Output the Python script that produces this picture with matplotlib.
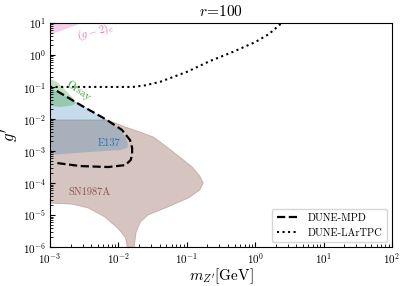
import numpy as np
import matplotlib
matplotlib.use("Agg")
import matplotlib.pyplot as plt

plt.rcParams["font.family"] = "serif"
plt.rcParams["font.serif"] = ["cmr10"]
plt.rcParams["mathtext.fontset"] = "cm"
plt.rcParams["axes.formatter.use_mathtext"] = True

# constraint contours, (log10 m_Z' [GeV], log10 g')
g2e_x = [-3.0, -2.53, -3.0]
g2e_y = [0.625, 1.0, 1.0]

orsay_x = [-3.0, -2.9, -2.78, -2.68, -2.62, -2.66, -2.71, -2.85, -3.0]
orsay_y = [-0.75, -0.84, -1.09, -1.31, -1.5, -1.56, -1.59, -1.625, -1.59]

e137_x = [-3.0, -2.56, -2.17, -1.98, -1.89, -1.86, -1.87, -1.98, -2.42, -3.0]
e137_y = [-1.03, -1.53, -2.03, -2.34, -2.59, -2.78, -2.9, -2.97, -3.03, -3.125]

sn_x = [-3.0, -2.17, -2.05, -1.9, -1.68, -1.49, -1.29, -1.1, -0.92, -0.81,
        -0.76, -0.81, -0.98, -1.28, -1.57, -1.68, -1.74, -1.77, -1.87, -1.9,
        -2.01, -2.2, -2.44, -2.68, -3.0]
sn_y = [-2.03, -2.03, -2.12, -2.25, -2.41, -2.56, -2.875, -3.19, -3.5, -3.78,
        -4.0, -4.22, -4.47, -4.75, -5.0, -5.22, -5.53, -6.0, -6.0, -5.69,
        -5.41, -5.06, -4.78, -4.66, -4.625]

# DUNE sensitivities
mpd_x = [-2.9, -2.55, -2.17, -1.95, -1.83, -1.8, -1.8, -1.82, -1.9, -2.15, -2.56, -2.9]
mpd_y = [-1.125, -1.57, -2.03, -2.34, -2.66, -2.9, -3.1, -3.28, -3.44, -3.5, -3.47, -3.375]

lar_x = [-3.0, -2.27, -1.79, -1.61, -1.39, -1.0, -0.66, -0.33, 0.0, 0.2, 0.39]
lar_y = [-1.0, -1.0, -1.0, -0.95, -0.84, -0.53, -0.19, 0.09, 0.4, 0.65, 1.0]

fig = plt.figure(figsize=(4.07, 2.86), dpi=100)
ax = fig.add_axes([0.123, 0.136, 0.840, 0.784])

def P(v):
    return 10.0 ** np.array(v)

ax.fill(P(g2e_x), P(g2e_y), color="tab:pink", alpha=0.35, lw=0)
ax.fill(P(sn_x), P(sn_y), color="tab:brown", alpha=0.35, lw=0.6, ec="tab:brown")
ax.fill(P(e137_x), P(e137_y), color="tab:blue", alpha=0.25, lw=0)
ax.fill(P(orsay_x), P(orsay_y), color="tab:green", alpha=0.3, lw=0)

ax.plot(P(mpd_x), P(mpd_y), "k--", lw=1.6, label="DUNE-MPD")
ax.plot(P(lar_x), P(lar_y), "k:", lw=1.5, label="DUNE-LArTPC")

ax.text(10**-2.33, 10**0.72, r"$(g-2)_e$", color="tab:pink", fontsize=8, rotation=14,
        ha="center", va="center")
ax.text(10**-2.58, 10**-1.12, "Orsay", color="tab:green", fontsize=7.5, rotation=-35,
        ha="center", va="center")
ax.text(10**-2.13, 10**-2.75, "E137", color="tab:blue", fontsize=7.5,
        ha="center", va="center")
ax.text(10**-2.43, 10**-4.29, "SN1987A", color="tab:brown", fontsize=7.5,
        ha="center", va="center")

ax.set_xscale("log")
ax.set_yscale("log")
ax.set_xlim(1e-3, 1e2)
ax.set_ylim(1e-6, 1e1)
ax.tick_params(which="both", direction="in", labelsize=8, pad=3)
ax.set_xlabel(r"$m_{Z'}$[GeV]", fontsize=11)
ax.set_ylabel(r"$g'$", fontsize=12)
ax.xaxis.set_label_coords(0.5, -0.085)
ax.yaxis.set_label_coords(-0.085, 0.5)
ax.set_title(r"$r\!=\!100$", fontsize=11, pad=5)
ax.legend(loc="lower right", fontsize=7.5, handlelength=2.2)

fig.savefig("out.png", dpi=100)
